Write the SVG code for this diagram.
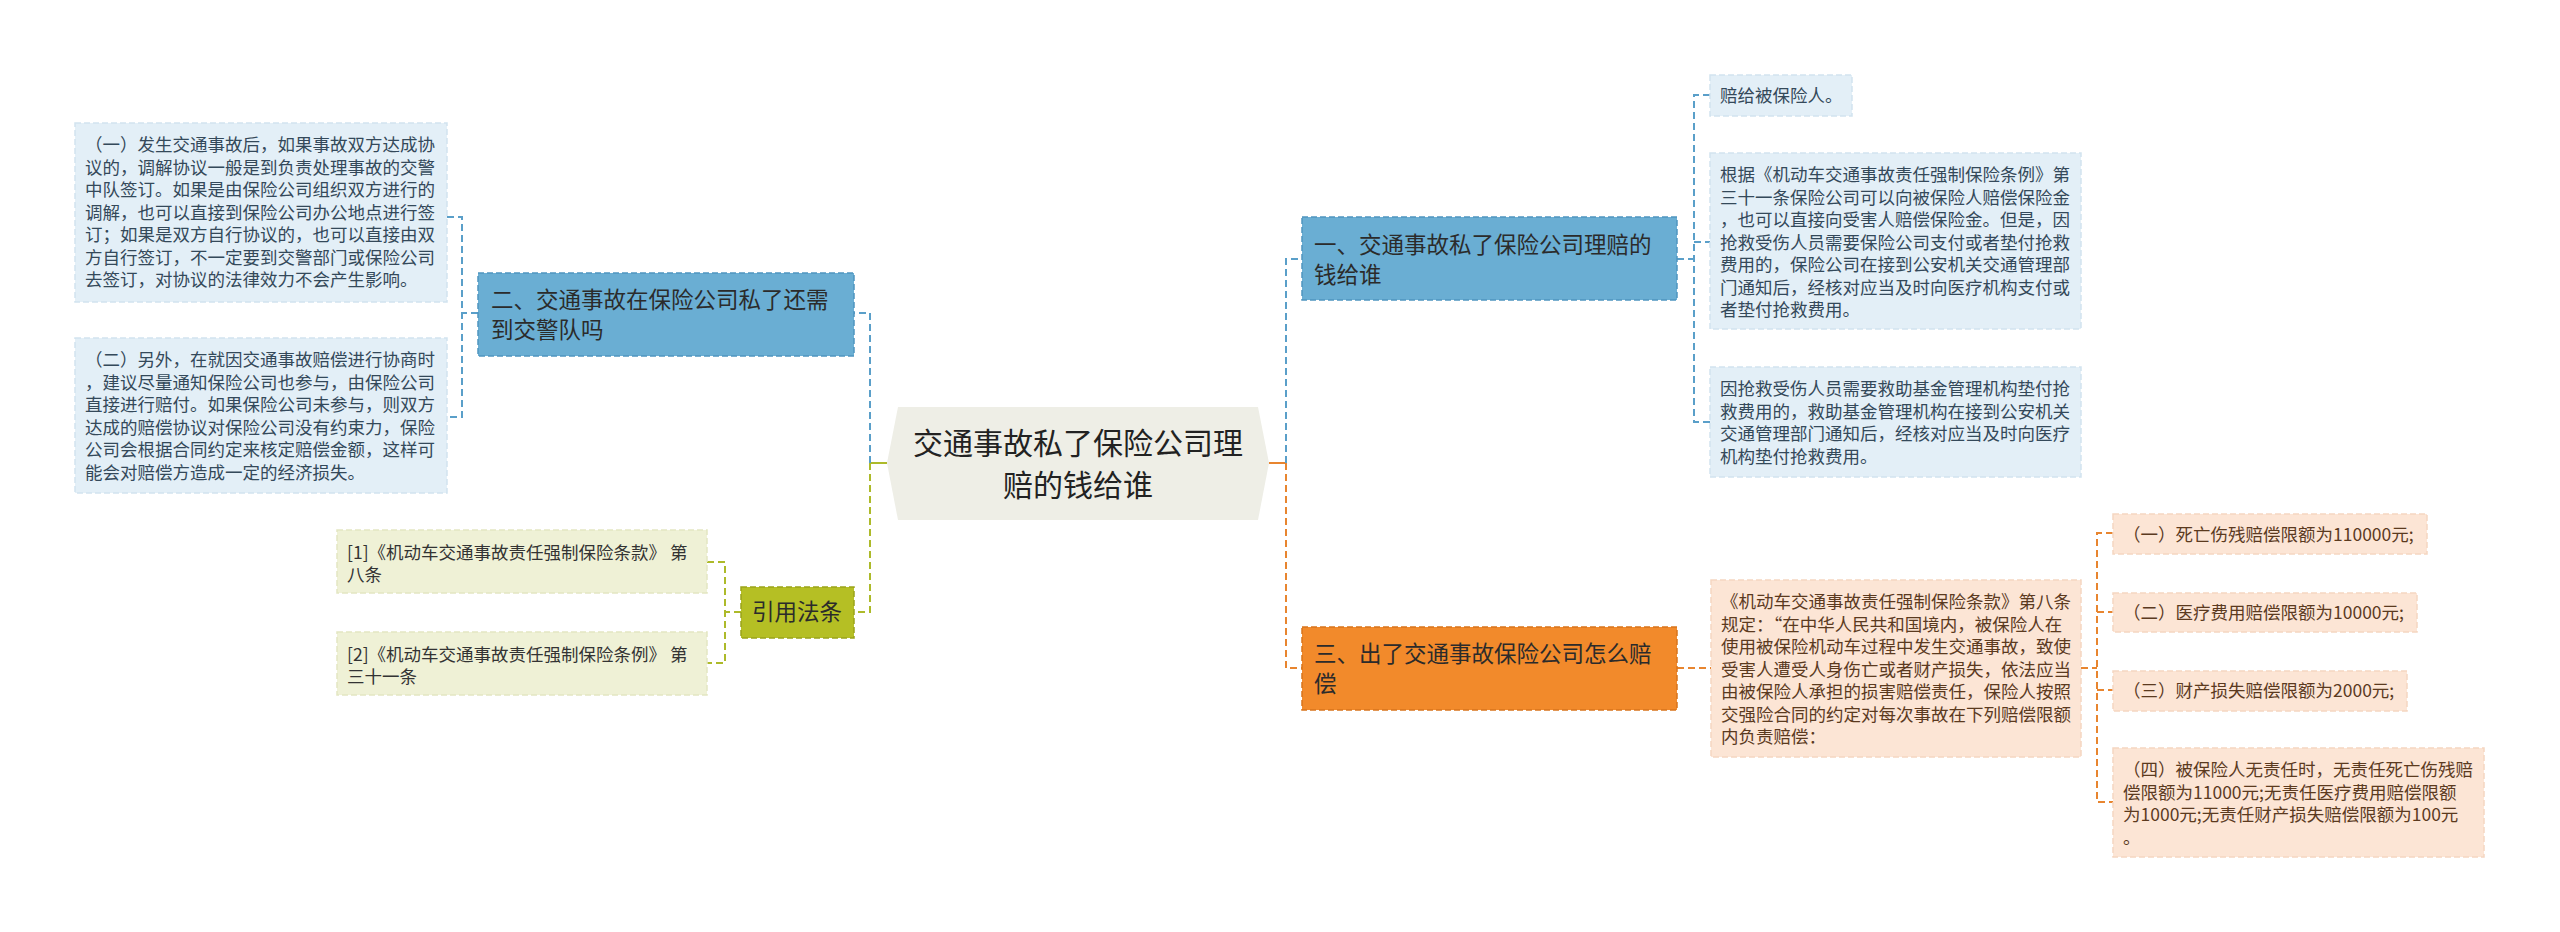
<svg xmlns="http://www.w3.org/2000/svg" width="2560" height="932" viewBox="0 0 2560 932">
<style>
text{font-family:"Noto Sans CJK SC","Microsoft YaHei",sans-serif;}
.leaf{font-size:17.5px;}
.main{font-size:22.5px;fill:#2b2b2b;}
.tb{fill:#34495a;}
.to{fill:#5b3a1f;}
.tg{fill:#333;}
.nb{fill:#6aaed3;stroke:#4f95c0;stroke-width:1.5;stroke-dasharray:6 3;}
.no{fill:#f28a2b;stroke:#d8741c;stroke-width:1.5;stroke-dasharray:6 3;}
.ng{fill:#b5bf24;stroke:#9aa41a;stroke-width:1.5;stroke-dasharray:6 3;}
.lb{fill:#e3eff7;stroke:#d2e4ef;stroke-width:1.5;stroke-dasharray:6 3;}
.lo{fill:#fce5d5;stroke:#f5d6c1;stroke-width:1.5;stroke-dasharray:6 3;}
.lg{fill:#eff1d6;stroke:#e3e6c2;stroke-width:1.5;stroke-dasharray:6 3;}
.c{fill:none;stroke-width:2;stroke-dasharray:7 4;}
.cb{stroke:#5a9fc9;}
.co{stroke:#e8852f;}
.cg{stroke:#adba2a;}
.solid{stroke-dasharray:none;}
</style>
<rect width="2560" height="932" fill="#ffffff"/>
<g id="connectors">
  <path class="c cg solid" d="M887,463 H870"/>
  <path class="c co solid" d="M1269,463 H1286"/>
  <path class="c cb" d="M870,463 V313 H854"/>
  <path class="c cg" d="M870,463 V612 H854"/>
  <path class="c cb" d="M478,313 H462"/>
  <path class="c cb" d="M447,217 H462 V417 H447"/>
  <path class="c cg" d="M741,612 H725"/>
  <path class="c cg" d="M707,562 H725 V663 H707"/>
  <path class="c cb" d="M1286,463 V259 H1302"/>
  <path class="c co" d="M1286,463 V668 H1302"/>
  <path class="c cb" d="M1677,259 H1694"/>
  <path class="c cb" d="M1710,95 H1694 V422 H1710"/>
  <path class="c cb" d="M1694,242 H1710"/>
  <path class="c co" d="M1677,668 H1711"/>
  <path class="c co" d="M2081,668 H2097"/>
  <path class="c co" d="M2113,533 H2097 V802 H2113"/>
  <path class="c co" d="M2097,612 H2113"/>
  <path class="c co" d="M2097,690 H2113"/>
</g>
<g id="center">
  <polygon points="887,463 898,407 1258,407 1269,463 1258,520 898,520" fill="#eeeee6"/>
  <text x="1078" y="454" font-size="30" fill="#222" text-anchor="middle">交通事故私了保险公司理</text>
  <text x="1078" y="496" font-size="30" fill="#222" text-anchor="middle">赔的钱给谁</text>
</g>
<g id="node-left-2">
  <rect class="nb" x="478" y="273" width="376" height="83"/>
  <text class="main" x="491" y="308">二、交通事故在保险公司私了还需</text>
  <text class="main" x="491" y="338">到交警队吗</text>
</g>
<g id="leaf-left-2-1">
  <rect class="lb" x="75" y="123" width="372" height="179"/>
  <text class="leaf tb" x="85" y="151">（一）发生交通事故后，如果事故双方达成协</text>
  <text class="leaf tb" x="85" y="173.5">议的，调解协议一般是到负责处理事故的交警</text>
  <text class="leaf tb" x="85" y="196">中队签订。如果是由保险公司组织双方进行的</text>
  <text class="leaf tb" x="85" y="218.5">调解，也可以直接到保险公司办公地点进行签</text>
  <text class="leaf tb" x="85" y="241">订；如果是双方自行协议的，也可以直接由双</text>
  <text class="leaf tb" x="85" y="263.5">方自行签订，不一定要到交警部门或保险公司</text>
  <text class="leaf tb" x="85" y="286">去签订，对协议的法律效力不会产生影响。</text>
</g>
<g id="leaf-left-2-2">
  <rect class="lb" x="75" y="338" width="372" height="155"/>
  <text class="leaf tb" x="85" y="366">（二）另外，在就因交通事故赔偿进行协商时</text>
  <text class="leaf tb" x="85" y="388.5">，建议尽量通知保险公司也参与，由保险公司</text>
  <text class="leaf tb" x="85" y="411">直接进行赔付。如果保险公司未参与，则双方</text>
  <text class="leaf tb" x="85" y="433.5">达成的赔偿协议对保险公司没有约束力，保险</text>
  <text class="leaf tb" x="85" y="456">公司会根据合同约定来核定赔偿金额，这样可</text>
  <text class="leaf tb" x="85" y="478.5">能会对赔偿方造成一定的经济损失。</text>
</g>
<g id="node-law">
  <rect class="ng" x="741" y="587" width="113" height="51"/>
  <text class="main" x="797" y="620" text-anchor="middle">引用法条</text>
</g>
<g id="leaf-law-1">
  <rect class="lg" x="337" y="530" width="370" height="63"/>
  <text class="leaf tg" x="347" y="559">[1]《机动车交通事故责任强制保险条款》 第</text>
  <text class="leaf tg" x="347" y="581">八条</text>
</g>
<g id="leaf-law-2">
  <rect class="lg" x="337" y="632" width="370" height="63"/>
  <text class="leaf tg" x="347" y="661">[2]《机动车交通事故责任强制保险条例》 第</text>
  <text class="leaf tg" x="347" y="683">三十一条</text>
</g>
<g id="node-right-1">
  <rect class="nb" x="1302" y="217" width="375" height="83"/>
  <text class="main" x="1314" y="253">一、交通事故私了保险公司理赔的</text>
  <text class="main" x="1314" y="283">钱给谁</text>
</g>
<g id="leaf-r1-1">
  <rect class="lb" x="1710" y="75" width="142" height="41"/>
  <text class="leaf tb" x="1720" y="102">赔给被保险人。</text>
</g>
<g id="leaf-r1-2">
  <rect class="lb" x="1710" y="153" width="371" height="176"/>
  <text class="leaf tb" x="1720" y="181">根据《机动车交通事故责任强制保险条例》第</text>
  <text class="leaf tb" x="1720" y="203.5">三十一条保险公司可以向被保险人赔偿保险金</text>
  <text class="leaf tb" x="1720" y="226">，也可以直接向受害人赔偿保险金。但是，因</text>
  <text class="leaf tb" x="1720" y="248.5">抢救受伤人员需要保险公司支付或者垫付抢救</text>
  <text class="leaf tb" x="1720" y="271">费用的，保险公司在接到公安机关交通管理部</text>
  <text class="leaf tb" x="1720" y="293.5">门通知后，经核对应当及时向医疗机构支付或</text>
  <text class="leaf tb" x="1720" y="316">者垫付抢救费用。</text>
</g>
<g id="leaf-r1-3">
  <rect class="lb" x="1710" y="367" width="371" height="110"/>
  <text class="leaf tb" x="1720" y="395">因抢救受伤人员需要救助基金管理机构垫付抢</text>
  <text class="leaf tb" x="1720" y="417.5">救费用的，救助基金管理机构在接到公安机关</text>
  <text class="leaf tb" x="1720" y="440">交通管理部门通知后，经核对应当及时向医疗</text>
  <text class="leaf tb" x="1720" y="462.5">机构垫付抢救费用。</text>
</g>
<g id="node-right-3">
  <rect class="no" x="1302" y="627" width="375" height="83"/>
  <text class="main" x="1314" y="662">三、出了交通事故保险公司怎么赔</text>
  <text class="main" x="1314" y="692">偿</text>
</g>
<g id="leaf-r3-1">
  <rect class="lo" x="1711" y="580" width="370" height="177"/>
  <text class="leaf to" x="1721" y="608">《机动车交通事故责任强制保险条款》第八条</text>
  <text class="leaf to" x="1721" y="630.5">规定：“在中华人民共和国境内，被保险人在</text>
  <text class="leaf to" x="1721" y="653">使用被保险机动车过程中发生交通事故，致使</text>
  <text class="leaf to" x="1721" y="675.5">受害人遭受人身伤亡或者财产损失，依法应当</text>
  <text class="leaf to" x="1721" y="698">由被保险人承担的损害赔偿责任，保险人按照</text>
  <text class="leaf to" x="1721" y="720.5">交强险合同的约定对每次事故在下列赔偿限额</text>
  <text class="leaf to" x="1721" y="743">内负责赔偿：</text>
</g>
<g id="leaf-r3-1-1">
  <rect class="lo" x="2113" y="514" width="314" height="40"/>
  <text class="leaf to" x="2123" y="541">（一）死亡伤残赔偿限额为110000元;</text>
</g>
<g id="leaf-r3-1-2">
  <rect class="lo" x="2113" y="593" width="304" height="39"/>
  <text class="leaf to" x="2123" y="619">（二）医疗费用赔偿限额为10000元;</text>
</g>
<g id="leaf-r3-1-3">
  <rect class="lo" x="2113" y="671" width="294" height="40"/>
  <text class="leaf to" x="2123" y="697">（三）财产损失赔偿限额为2000元;</text>
</g>
<g id="leaf-r3-1-4">
  <rect class="lo" x="2113" y="748" width="371" height="109"/>
  <text class="leaf to" x="2123" y="776">（四）被保险人无责任时，无责任死亡伤残赔</text>
  <text class="leaf to" x="2123" y="798.5">偿限额为11000元;无责任医疗费用赔偿限额</text>
  <text class="leaf to" x="2123" y="821">为1000元;无责任财产损失赔偿限额为100元</text>
  <text class="leaf to" x="2123" y="843.5">。</text>
</g>
</svg>
